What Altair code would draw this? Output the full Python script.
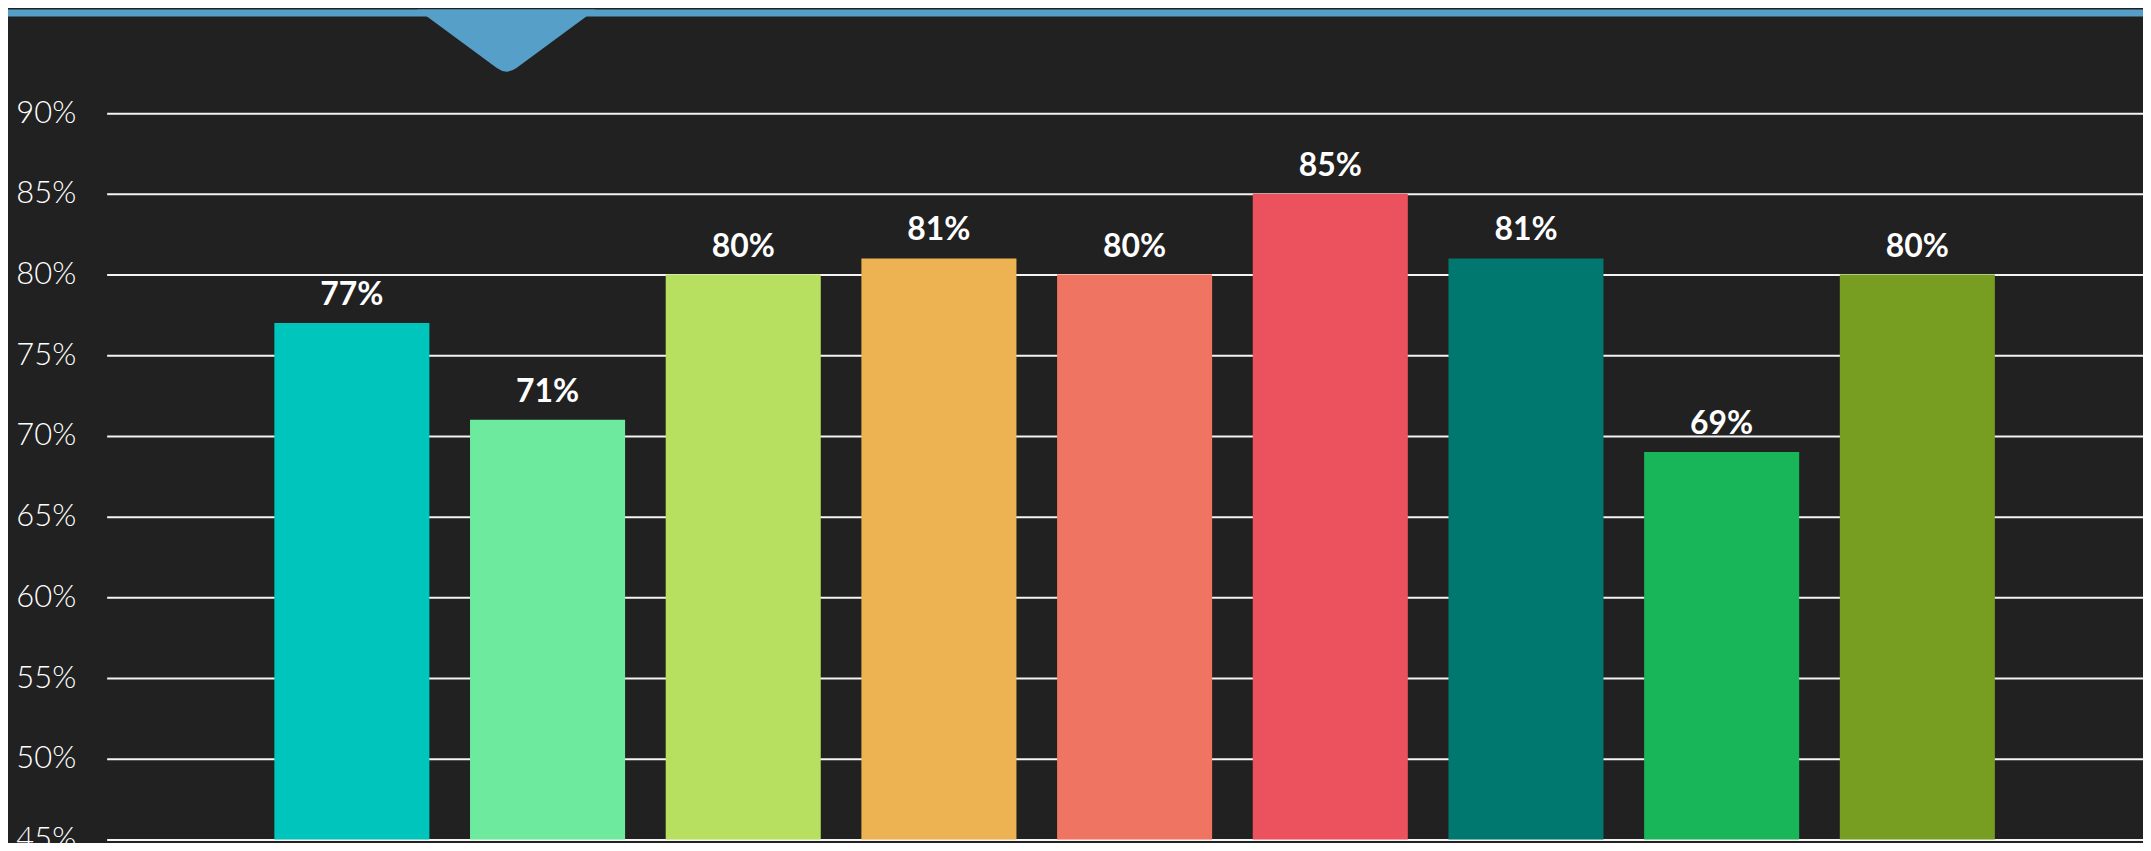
import altair as alt
import pandas as pd

categories = ["A", "B", "C", "D", "E", "F", "G", "H", "I"]
values = [77, 71, 80, 81, 80, 85, 81, 69, 80]
colors = ["#00C5BC", "#6EEA9F", "#B7E061", "#EDB251", "#EF7461",
          "#EC525D", "#00776F", "#19B559", "#779E20"]
y_ticks = [45, 50, 55, 60, 65, 70, 75, 80, 85, 90]

df = pd.DataFrame({"cat": categories, "val": values, "label": [f"{v}%" for v in values]})
one = pd.DataFrame({"d": [0]})

PLOT_W = 2044
PLOT_H = 833

x_enc = alt.X("cat:N", sort=categories, axis=None,
              scale=alt.Scale(paddingInner=0.2076, paddingOuter=0.807, align=0.531,
                              round=False))
y_scale = alt.Scale(domain=[45, 96.42], nice=False, zero=False)

bars = alt.Chart(df).mark_bar().encode(
    x=x_enc,
    y=alt.Y("val:Q", scale=y_scale,
            axis=alt.Axis(values=y_ticks, labelExpr="datum.value + '%'", title=None,
                          grid=True, gridColor="#F4F4F4", gridWidth=2, domain=False,
                          ticks=False, labelPadding=31, labelFontSize=31,
                          labelColor="#FFFFFF", labelFont="Lato", labelFontWeight=300,
                          labelBaseline="middle")),
    y2=alt.datum(45),
    color=alt.Color("cat:N", scale=alt.Scale(domain=categories, range=colors), legend=None),
)

text = alt.Chart(df).mark_text(
    baseline="alphabetic", dy=-18, fontSize=32, fontWeight="bold",
    font="Lato", color="#FFFFFF"
).encode(
    x=x_enc,
    y=alt.Y("val:Q", scale=y_scale),
    text="label:N",
)

top_bar = alt.Chart(one).mark_rect(color="#559FC8").encode(
    x=alt.value(-99), x2=alt.value(PLOT_W), y=alt.value(0), y2=alt.value(7)
)

tri_path = "M-1,-0.3687L1,-0.3687L0.11,0.2876Q0,0.3687,-0.11,0.2876Z"
triangle = alt.Chart(one).mark_point(
    shape=tri_path, filled=True, fill="#559FC8", opacity=1, strokeWidth=0
).encode(
    x=alt.value(401.5), y=alt.value(33), size=alt.value(32041)
)

chart = alt.layer(bars, text, top_bar, triangle).properties(
    width=PLOT_W, height=PLOT_H,
    autosize=alt.AutoSizeParams(type="none"),
    padding={"left": 99, "top": 0, "right": 0, "bottom": 2},
    background="#212121",
).configure_view(stroke=None)

chart.save("out.html", embed_options={"renderer": "svg", "actions": False})
